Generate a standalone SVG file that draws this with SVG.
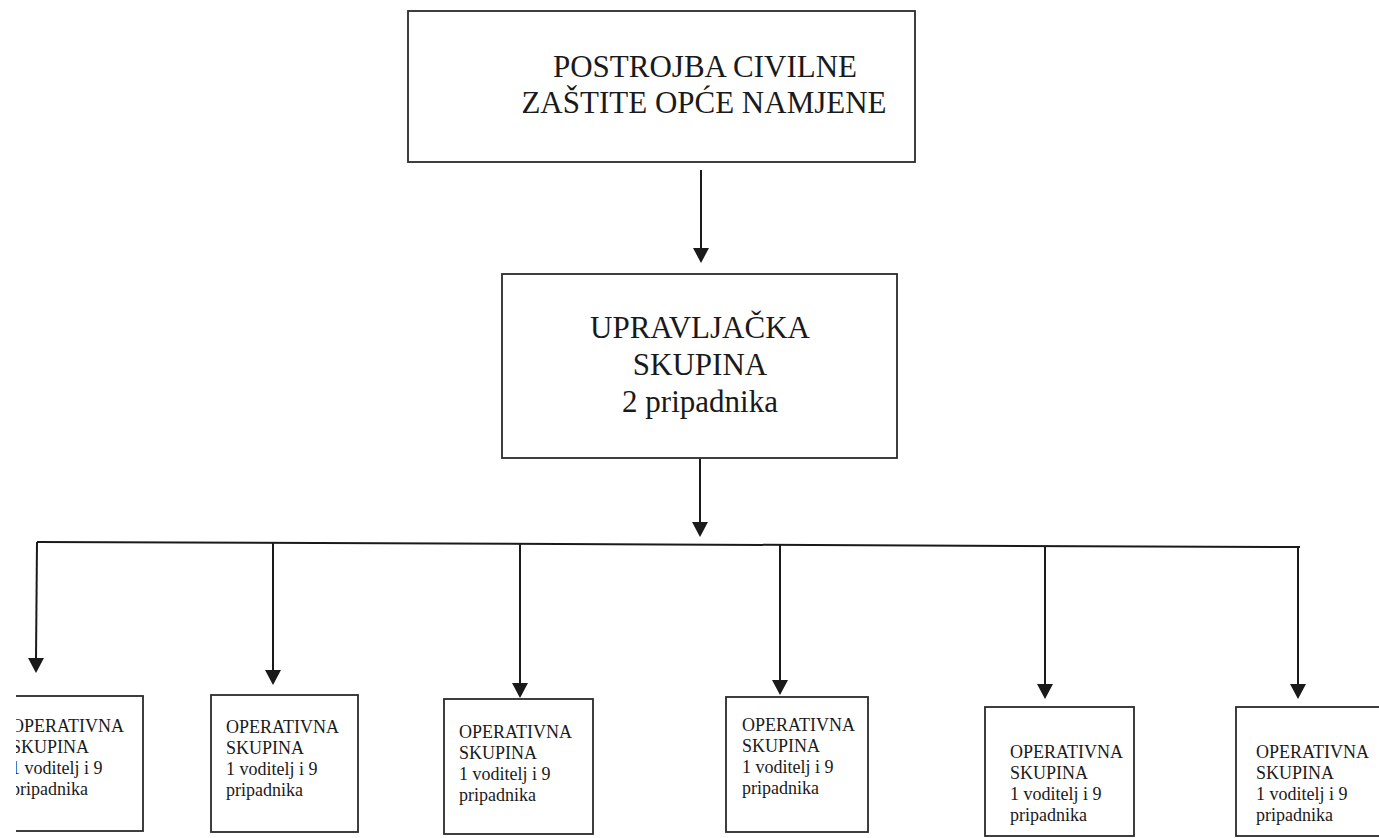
<svg xmlns="http://www.w3.org/2000/svg" width="1379" height="838" viewBox="0 0 1379 838">
<defs>
<style>
.box{fill:#fff;stroke:#2a2a2a;stroke-width:1.8}
.big{font-family:"Liberation Serif","Times New Roman",serif;font-size:31px;fill:#1a1a1a;text-anchor:middle}
.sm{font-family:"Liberation Serif","Times New Roman",serif;font-size:18px;fill:#1a1a1a}
.ln{fill:none;stroke:#1a1a1a;stroke-width:2}
</style>
<marker id="ah" viewBox="0 0 16 15" refX="8" refY="15" markerWidth="16" markerHeight="15" markerUnits="userSpaceOnUse" orient="auto-start-reverse">
<path d="M0,0 L16,0 L8,15 Z" fill="#1a1a1a"/>
</marker>
<clipPath id="cut"><rect x="16" y="0" width="1363" height="838"/></clipPath>
</defs>
<rect width="1379" height="838" fill="#fff"/>

<g id="connectors">
<line class="ln" x1="701" y1="170" x2="701" y2="248"/>
<path d="M693,248 L709,248 L701,263 Z" fill="#1a1a1a"/>
<line class="ln" x1="700" y1="459" x2="700" y2="522"/>
<path d="M692,522 L708,522 L700,537 Z" fill="#1a1a1a"/>
<line class="ln" x1="37" y1="542" x2="1300" y2="547"/>
<line class="ln" x1="37" y1="542" x2="36" y2="658"/>
<path d="M28,658 L44,658 L36,673 Z" fill="#1a1a1a"/>
<line class="ln" x1="273" y1="543" x2="273" y2="670"/>
<path d="M265,670 L281,670 L273,685 Z" fill="#1a1a1a"/>
<line class="ln" x1="520" y1="544" x2="520" y2="683"/>
<path d="M512,683 L528,683 L520,698 Z" fill="#1a1a1a"/>
<line class="ln" x1="780" y1="545" x2="780" y2="680"/>
<path d="M772,680 L788,680 L780,695 Z" fill="#1a1a1a"/>
<line class="ln" x1="1045" y1="546" x2="1045" y2="684"/>
<path d="M1037,684 L1053,684 L1045,699 Z" fill="#1a1a1a"/>
<line class="ln" x1="1298" y1="547" x2="1298" y2="684"/>
<path d="M1290,684 L1306,684 L1298,699 Z" fill="#1a1a1a"/>
</g>

<g id="node-postrojba">
<rect class="box" x="408" y="11" width="507" height="151"/>
<text class="big" x="705" y="77">POSTROJBA CIVILNE</text>
<text class="big" x="704" y="113">ZAŠTITE OPĆE NAMJENE</text>
</g>

<g id="node-upravljacka">
<rect class="box" x="502" y="274" width="395" height="184"/>
<text class="big" x="700" y="338">UPRAVLJAČKA</text>
<text class="big" x="700" y="375">SKUPINA</text>
<text class="big" x="700" y="412">2 pripadnika</text>
</g>

<g id="node-op1" clip-path="url(#cut)">
<rect class="box" x="-5" y="696" width="148" height="135"/>
<text class="sm" x="11" y="732">OPERATIVNA</text>
<text class="sm" x="11" y="753">SKUPINA</text>
<text class="sm" x="11" y="774">1 voditelj i 9</text>
<text class="sm" x="11" y="795">pripadnika</text>
</g>

<g id="node-op2">
<rect class="box" x="211" y="695" width="147" height="137"/>
<text class="sm" x="226" y="733">OPERATIVNA</text>
<text class="sm" x="226" y="754">SKUPINA</text>
<text class="sm" x="226" y="775">1 voditelj i 9</text>
<text class="sm" x="226" y="796">pripadnika</text>
</g>

<g id="node-op3">
<rect class="box" x="444" y="699" width="149" height="135"/>
<text class="sm" x="459" y="738">OPERATIVNA</text>
<text class="sm" x="459" y="759">SKUPINA</text>
<text class="sm" x="459" y="780">1 voditelj i 9</text>
<text class="sm" x="459" y="801">pripadnika</text>
</g>

<g id="node-op4">
<rect class="box" x="726" y="697" width="142" height="135"/>
<text class="sm" x="742" y="731">OPERATIVNA</text>
<text class="sm" x="742" y="752">SKUPINA</text>
<text class="sm" x="742" y="773">1 voditelj i 9</text>
<text class="sm" x="742" y="794">pripadnika</text>
</g>

<g id="node-op5">
<rect class="box" x="985" y="707" width="149" height="129"/>
<text class="sm" x="1010" y="758">OPERATIVNA</text>
<text class="sm" x="1010" y="779">SKUPINA</text>
<text class="sm" x="1010" y="800">1 voditelj i 9</text>
<text class="sm" x="1010" y="821">pripadnika</text>
</g>

<g id="node-op6">
<rect class="box" x="1236" y="707" width="150" height="129"/>
<text class="sm" x="1256" y="758">OPERATIVNA</text>
<text class="sm" x="1256" y="779">SKUPINA</text>
<text class="sm" x="1256" y="800">1 voditelj i 9</text>
<text class="sm" x="1256" y="821">pripadnika</text>
</g>
</svg>
